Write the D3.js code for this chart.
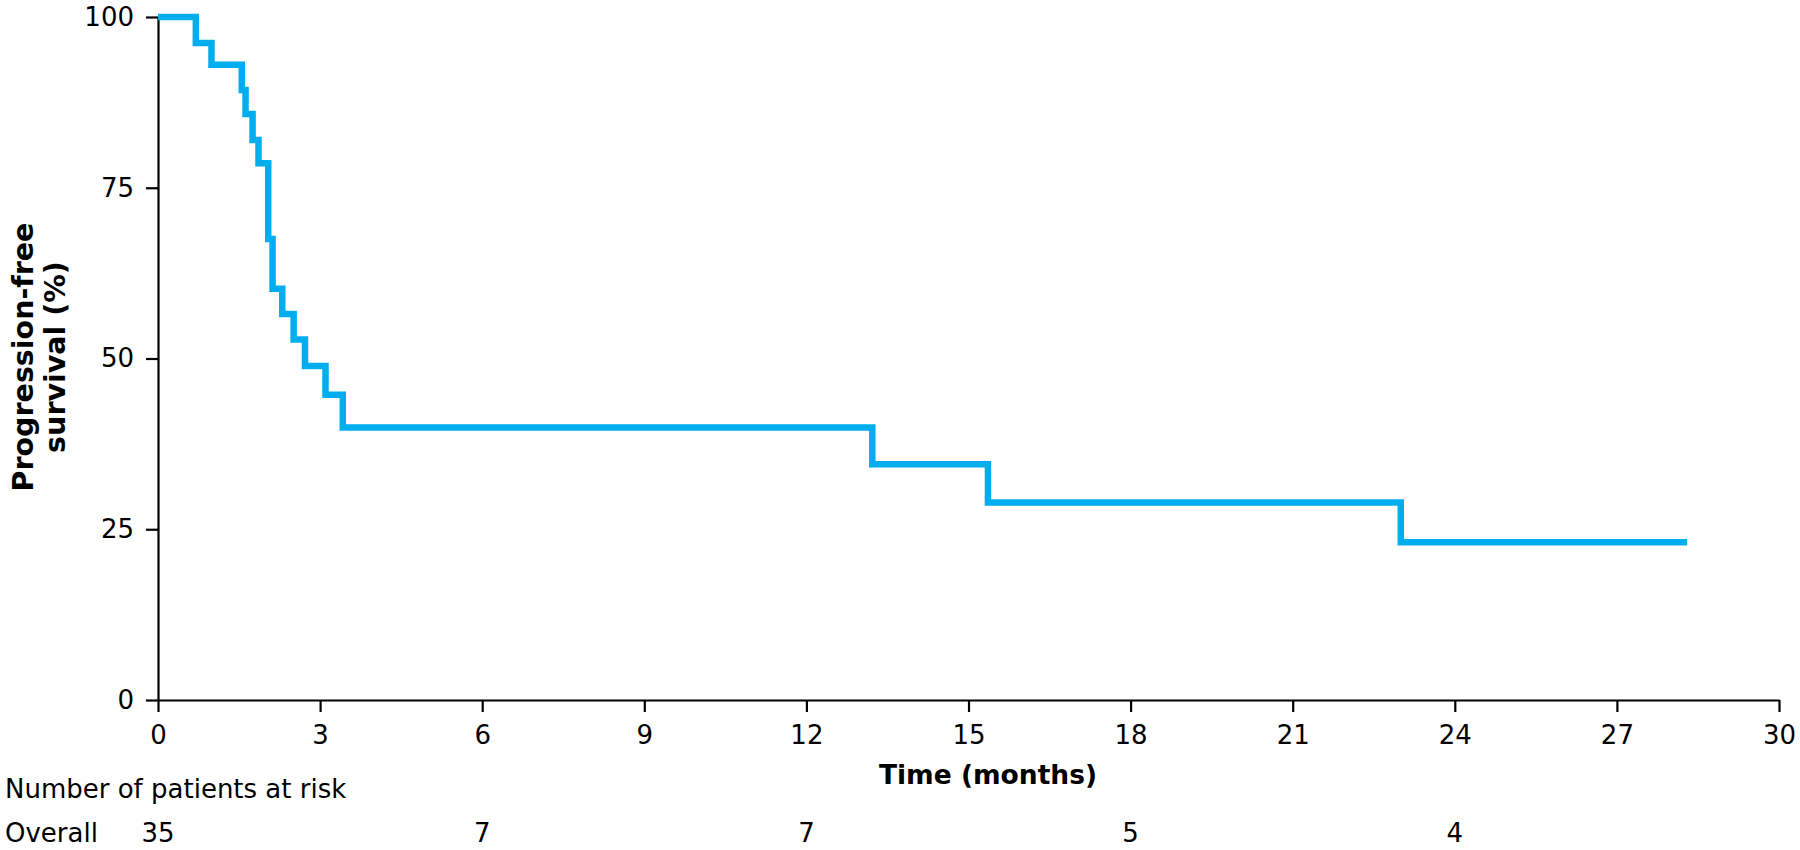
<!DOCTYPE html>
<html>
<head>
<meta charset="utf-8">
<script src="https://cdn.jsdelivr.net/npm/d3@7"></script>
<style>
  html, body { margin: 0; padding: 0; background: #fff; }
  svg { display: block; }
  text { font-family: "DejaVu Sans", "Noto Sans", sans-serif; fill: #000; }
</style>
</head>
<body>
<svg id="chart" width="1800" height="850"></svg>
<script>
// ---- data ----
const times    = [0, 0.70, 0.99, 1.55, 1.62, 1.75, 1.86, 2.04, 2.12, 2.30, 2.51, 2.72, 3.10, 3.42, 13.22, 15.36, 23.0, 28.3];
const survival = [100, 96.2, 93.0, 89.3, 85.8, 82.0, 78.6, 67.5, 60.2, 56.5, 52.8, 48.9, 44.7, 39.9, 34.5, 28.9, 23.1, 23.1];
const xTicks = [0, 3, 6, 9, 12, 15, 18, 21, 24, 27, 30];
const yTicks = [0, 25, 50, 75, 100];
const riskTimes  = [0, 6, 12, 18, 24];
const riskCounts = [35, 7, 7, 5, 4];
const riskGroup = "Overall";
const riskTitle = "Number of patients at risk";
const xLabel = "Time (months)";
const yLabelLines = ["Progression-free", "survival (%)"];

// ---- layout ----
const svg = d3.select("#chart");
const x = d3.scaleLinear().domain([0, 30]).range([158, 1779]);
const y = d3.scaleLinear().domain([0, 100]).range([700, 17]);

// axes
const xAxis = d3.axisBottom(x).tickValues(xTicks).tickSize(12).tickSizeOuter(0).tickPadding(14);
const yAxis = d3.axisLeft(y).tickValues(yTicks).tickSize(12).tickSizeOuter(0).tickPadding(12);

const gx = svg.append("g").attr("transform", `translate(0,${y(0)})`).call(xAxis);
const gy = svg.append("g").attr("transform", `translate(${x(0)},0)`).call(yAxis);
[gx, gy].forEach(g => {
  g.selectAll("path.domain").attr("stroke", "#000").attr("stroke-width", 2.2);
  g.selectAll(".tick line").attr("stroke", "#000").attr("stroke-width", 2.2);
  g.selectAll(".tick text").style("font-size", "26px").attr("fill", "#000");
});

// curve
const pts = times.map((t, i) => [t, survival[i]]);
const line = d3.line().x(d => x(d[0])).y(d => y(d[1])).curve(d3.curveStepAfter);
svg.append("path")
  .datum(pts)
  .attr("d", line)
  .attr("fill", "none")
  .attr("stroke", "#00AEEF")
  .attr("stroke-width", 6.5)
  .attr("stroke-linejoin", "miter")
  .attr("stroke-linecap", "butt");

// axis titles
svg.append("text")
  .attr("x", 988).attr("y", 784)
  .attr("text-anchor", "middle")
  .style("font-size", "26.5px").style("font-weight", "bold")
  .text(xLabel);

const yl = svg.append("text")
  .attr("transform", "translate(33,357) rotate(-90)")
  .attr("text-anchor", "middle")
  .style("font-size", "28.5px").style("font-weight", "bold");
yLabelLines.forEach((s, i) => {
  yl.append("tspan").attr("x", 0).attr("dy", i === 0 ? 0 : 32).text(s);
});

// risk table
svg.append("text")
  .attr("x", 5).attr("y", 798)
  .style("font-size", "26px")
  .text(riskTitle);
svg.append("text")
  .attr("x", 5).attr("y", 842)
  .style("font-size", "26px")
  .text(riskGroup);
svg.append("g").selectAll("text")
  .data(riskTimes)
  .join("text")
  .attr("x", d => x(d))
  .attr("y", 842)
  .attr("text-anchor", "middle")
  .style("font-size", "26px")
  .text((d, i) => riskCounts[i]);
</script>
</body>
</html>
